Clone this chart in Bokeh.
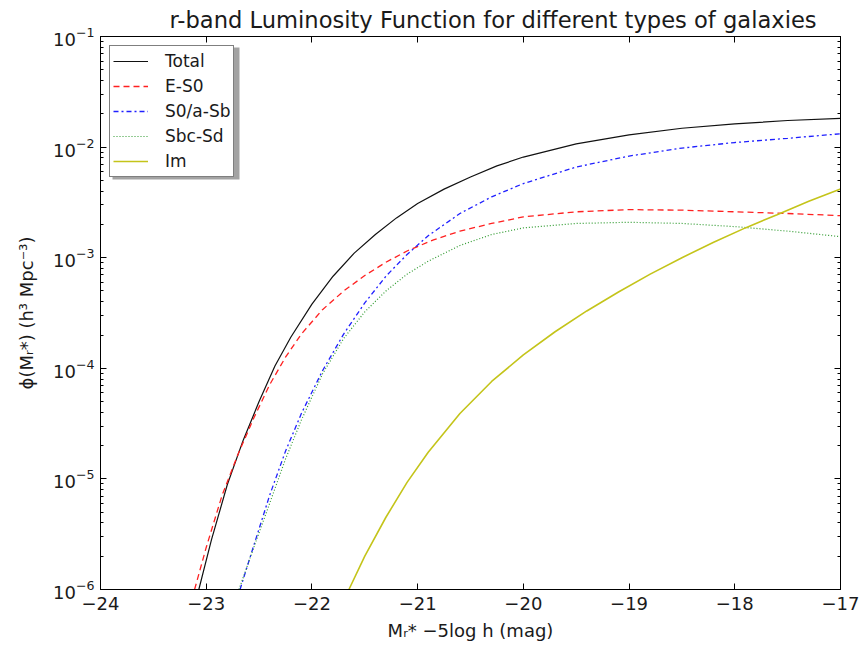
from bokeh.plotting import figure
from bokeh.models import (Legend, LegendItem, FixedTicker, LogAxis, LinearAxis, Range1d,
                          CustomJSTickFormatter, BoxAnnotation)
from bokeh.embed import file_html
from bokeh.resources import INLINE

# ---- data ----
m_total = [-23.07, -22.95, -22.80, -22.65, -22.50, -22.35, -22.20, -22.00, -21.80, -21.60,
           -21.40, -21.20, -21.00, -20.75, -20.50, -20.25, -20.00, -19.50, -19.00, -18.50,
           -18.00, -17.50, -17.00]
phi_total = [1.0e-6, 2.82e-6, 8.9e-6, 2.24e-5, 5.0e-5, 1.05e-4, 1.91e-4, 3.8e-4, 6.8e-4, 1.10e-3,
             1.62e-3, 2.29e-3, 3.09e-3, 4.17e-3, 5.37e-3, 6.76e-3, 8.13e-3, 1.07e-2, 1.29e-2, 1.48e-2,
             1.62e-2, 1.74e-2, 1.82e-2]

m_es0 = [-23.11, -23.00, -22.85, -22.70, -22.55, -22.40, -22.25, -22.10, -21.90, -21.70,
         -21.50, -21.30, -21.10, -20.85, -20.60, -20.30, -20.00, -19.50, -19.00, -18.50,
         -18.00, -17.50, -17.00]
phi_es0 = [1.0e-6, 2.4e-6, 7.1e-6, 1.66e-5, 3.55e-5, 7.1e-5, 1.26e-4, 2.04e-4, 3.39e-4, 5.0e-4,
           6.9e-4, 9.1e-4, 1.15e-3, 1.45e-3, 1.74e-3, 2.04e-3, 2.34e-3, 2.6e-3, 2.72e-3, 2.69e-3,
           2.6e-3, 2.51e-3, 2.4e-3]

m_s0sb = [-22.68, -22.55, -22.40, -22.25, -22.10, -21.90, -21.70, -21.50, -21.30, -21.10,
          -20.90, -20.60, -20.30, -20.00, -19.50, -19.00, -18.50, -18.00, -17.50, -17.00]
phi_s0sb = [1.0e-6, 2.5e-6, 7.1e-6, 1.78e-5, 3.9e-5, 9.5e-5, 2.04e-4, 3.9e-4, 6.8e-4, 1.07e-3,
            1.58e-3, 2.51e-3, 3.55e-3, 4.68e-3, 6.6e-3, 8.3e-3, 9.8e-3, 1.10e-2, 1.20e-2, 1.32e-2]

m_sbcsd = [-22.69, -22.55, -22.40, -22.25, -22.10, -21.90, -21.70, -21.50, -21.30, -21.10,
           -20.90, -20.60, -20.30, -20.00, -19.50, -19.00, -18.50, -18.00, -17.50, -17.00]
phi_sbcsd = [1.0e-6, 2.4e-6, 6.0e-6, 1.51e-5, 3.4e-5, 8.9e-5, 1.86e-4, 3.24e-4, 5.0e-4, 7.1e-4,
             9.3e-4, 1.29e-3, 1.62e-3, 1.86e-3, 2.04e-3, 2.09e-3, 2.04e-3, 1.91e-3, 1.74e-3, 1.55e-3]

m_im = [-21.65, -21.50, -21.30, -21.10, -20.90, -20.60, -20.30, -20.00, -19.70, -19.40,
        -19.10, -18.80, -18.50, -18.20, -17.90, -17.60, -17.30, -17.00]
phi_im = [1.0e-6, 2.0e-6, 4.5e-6, 9.3e-6, 1.74e-5, 3.9e-5, 7.6e-5, 1.32e-4, 2.14e-4, 3.3e-4,
          4.9e-4, 7.1e-4, 1.0e-3, 1.38e-3, 1.86e-3, 2.45e-3, 3.24e-3, 4.17e-3]

x_ticks = [-24, -23, -22, -21, -20, -19, -18, -17]
y_ticks = [1e-6, 1e-5, 1e-4, 1e-3, 1e-2, 1e-1]
y_minor = [k * 10.0 ** e for e in range(-6, -1) for k in range(2, 10)]

title = "r-band Luminosity Function for different types of galaxies"
x_label = "M\u1d63* \u22125log h (mag)"
y_label = "\u03d5(M\u1d63*) (h\u00b3 Mpc\u207b\u00b3)"

FONT = "DejaVu Sans"
TXT = "#1a1a1a"

p = figure(width=859, height=645, y_axis_type="log",
           x_range=Range1d(-24, -17), y_range=Range1d(1e-6, 1e-1),
           output_backend="svg", toolbar_location=None,
           min_border_left=100, min_border_right=19, min_border_top=35, min_border_bottom=56)
p.title.text = title
p.title.text_font = FONT
p.title.text_font_size = "22.6px"
p.title.text_font_style = "normal"
p.title.align = "left"
p.title.offset = 69
p.title.standoff = 8
p.title.text_color = TXT

p.xgrid.visible = False
p.ygrid.visible = False
p.outline_line_color = "black"
p.outline_line_width = 1
p.background_fill_color = "white"
p.border_fill_color = "white"

xt = FixedTicker(ticks=x_ticks, minor_ticks=[])
yt = FixedTicker(ticks=y_ticks, minor_ticks=y_minor)

p.xaxis.ticker = xt
p.yaxis.ticker = yt
p.xaxis.major_label_overrides = {t: "\u2212%d" % abs(t) for t in x_ticks}

for ax in (p.xaxis[0], p.yaxis[0]):
    ax.major_tick_in = 6
    ax.major_tick_out = 0
    ax.minor_tick_in = 3
    ax.minor_tick_out = 0
    ax.axis_line_color = "black"
    ax.major_label_text_font = FONT
    ax.major_label_text_font_size = "18px"
    ax.major_label_text_color = TXT
    ax.axis_label_text_font = FONT
    ax.axis_label_text_font_size = "18px"
    ax.axis_label_text_font_style = "normal"
    ax.axis_label_text_color = TXT

p.xaxis.axis_label = x_label
p.yaxis.axis_label = y_label
p.xaxis.major_label_standoff = 7
p.xaxis.axis_label_standoff = 7
p.yaxis.major_label_standoff = 6
p.yaxis.axis_label_standoff = 13

blank = CustomJSTickFormatter(code="return '';")
right = LogAxis(ticker=yt, formatter=blank, major_tick_in=6, major_tick_out=0,
                minor_tick_in=3, minor_tick_out=0, major_label_standoff=0,
                axis_line_color="black")
top = LinearAxis(ticker=xt, formatter=blank, major_tick_in=6, major_tick_out=0,
                 minor_tick_in=0, minor_tick_out=0, major_label_standoff=0,
                 axis_line_color="black")
p.add_layout(right, "right")
p.add_layout(top, "above")

r_total = p.line(m_total, phi_total, line_color="#111111", line_width=1.2)
r_es0 = p.line(m_es0, phi_es0, line_color="#ff2020", line_width=1.3, line_dash="6 4")
r_s0sb = p.line(m_s0sb, phi_s0sb, line_color="#2020ff", line_width=1.3, line_dash="5 3 2 3")
r_sbcsd = p.line(m_sbcsd, phi_sbcsd, line_color="#2e9a2e", line_width=1.2, line_dash="1 2")
r_im = p.line(m_im, phi_im, line_color="#c4c41a", line_width=1.6)

# legend drop shadow
shadow = BoxAnnotation(left=12, right=139, top=542, bottom=410,
                       left_units="screen", right_units="screen",
                       top_units="screen", bottom_units="screen",
                       fill_color="#8c8c8c", fill_alpha=0.8, line_color=None)
p.add_layout(shadow)

legend = Legend(items=[
    LegendItem(label="Total", renderers=[r_total]),
    LegendItem(label="E-S0", renderers=[r_es0]),
    LegendItem(label="S0/a-Sb", renderers=[r_s0sb]),
    LegendItem(label="Sbc-Sd", renderers=[r_sbcsd]),
    LegendItem(label="Im", renderers=[r_im]),
], location="top_left")
legend.margin = 9
legend.padding = 3
legend.spacing = 1
legend.glyph_width = 35
legend.glyph_height = 24
legend.label_height = 24
legend.label_standoff = 17
legend.label_text_font = FONT
legend.label_text_font_size = "17px"
legend.label_text_color = TXT
legend.border_line_color = "black"
legend.border_line_width = 1
legend.background_fill_alpha = 1.0
p.add_layout(legend)

open("out.html", "w").write(file_html(p, INLINE))
